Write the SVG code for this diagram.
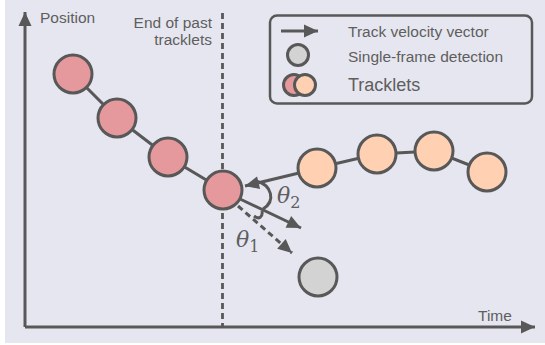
<svg xmlns="http://www.w3.org/2000/svg" width="545" height="345" viewBox="0 0 545 345">
<style>
.ln{stroke:#585858;stroke-width:3;fill:none}
.pk{fill:#e6999c;stroke:#585858;stroke-width:3}
.or{fill:#ffd0b2;stroke:#585858;stroke-width:3}
.gy{fill:#d3d3d3;stroke:#585858;stroke-width:3}
.t{font-family:"Liberation Sans",Arial,sans-serif;font-size:15.5px;fill:#5e5e5e}
.big{font-size:18px}
.th{font-family:"DejaVu Serif","Liberation Serif",serif;font-style:italic;font-size:22px;fill:#5e5e5e}
.sub{font-size:16px;font-style:normal}
</style>
<defs>
<marker id="ah" markerUnits="userSpaceOnUse" markerWidth="16" markerHeight="16" viewBox="0 0 16 16" refX="15" refY="8" orient="auto">
<path d="M1,1.5 L15,8 L1,14.5 Z" fill="#585858"/>
</marker>
</defs>
<rect x="5" y="0" width="540" height="343" fill="#e6e6f0"/>
<g id="axes">
<line class="ln" x1="25" y1="327" x2="25" y2="12" marker-end="url(#ah)"/>
<line class="ln" x1="25" y1="327" x2="535" y2="327" marker-end="url(#ah)"/>
<text class="t" x="40" y="23">Position</text>
<text class="t" x="478" y="321">Time</text>
</g>
<g id="divider">
<line x1="222.5" y1="13" x2="222.5" y2="327" stroke="#585858" stroke-width="2.8" stroke-dasharray="6,4"/>
<text class="t" x="212" y="28" text-anchor="end">End of past</text>
<text class="t" x="212" y="45" text-anchor="end">tracklets</text>
</g>
<g id="connectors">
<polyline class="ln" points="73,74 117,118 168,157 223,190"/>
<polyline class="ln" points="317,168 377,154 434,151 487,172"/>
<line class="ln" x1="240" y1="199" x2="301" y2="228" marker-end="url(#ah)"/>
<line class="ln" x1="238" y1="206" x2="292" y2="253" stroke-dasharray="6,4" marker-end="url(#ah)"/>
<line class="ln" x1="299" y1="173" x2="245" y2="186" marker-end="url(#ah)"/>
<path class="ln" d="M256,181 C272,185 276,201 263,209"/>
<path class="ln" d="M262,211 C263,217 259,220 254,216"/>
</g>
<g id="past-tracklets">
<circle class="pk" cx="73" cy="74" r="19"/>
<circle class="pk" cx="117" cy="118" r="19"/>
<circle class="pk" cx="168" cy="157" r="19"/>
<circle class="pk" cx="223" cy="190" r="19"/>
</g>
<g id="future-tracklets">
<circle class="or" cx="317" cy="168" r="19"/>
<circle class="or" cx="377" cy="154" r="19"/>
<circle class="or" cx="434" cy="151" r="19"/>
<circle class="or" cx="487" cy="172" r="19"/>
</g>
<g id="detection">
<circle class="gy" cx="318" cy="277" r="19"/>
</g>
<g id="angles">
<text class="th" x="277" y="203">θ<tspan class="sub" dy="5">2</tspan></text>
<text class="th" x="236" y="247">θ<tspan class="sub" dy="5">1</tspan></text>
</g>
<g id="legend">
<rect x="270" y="15.5" width="262" height="88" rx="7" fill="none" stroke="#585858" stroke-width="2.5"/>
<line class="ln" x1="281" y1="31" x2="318" y2="31" marker-end="url(#ah)"/>
<circle class="gy" cx="298" cy="55" r="10.5"/>
<circle class="pk" cx="294" cy="85" r="10.5"/>
<circle class="or" cx="305" cy="85" r="10.5"/>
<text class="t" x="348" y="37">Track velocity vector</text>
<text class="t" x="348" y="62">Single-frame detection</text>
<text class="t big" x="348" y="91">Tracklets</text>
</g>
</svg>
